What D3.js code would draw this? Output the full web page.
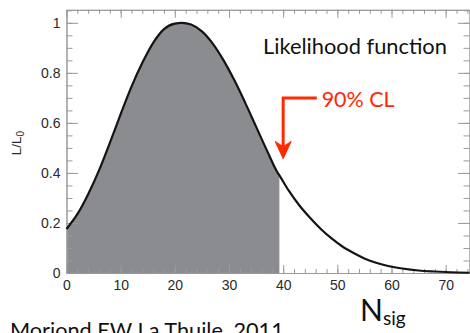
<!DOCTYPE html>
<html>
<head>
<meta charset="utf-8">
<script src="https://cdn.jsdelivr.net/npm/d3@7"></script>
<style>
  html, body { margin: 0; padding: 0; background: #fff; }
  svg { display: block; }
  .axis path, .axis line { stroke: #9a9a9a; stroke-width: 1; }
  .axis text { font-family: "Liberation Sans", Arial, sans-serif; font-size: 14px; fill: #2a2a2a; }
</style>
</head>
<body>
<svg id="chart" width="470" height="333"></svg>
<script>
// Likelihood scan for the signal yield, normalised to its maximum
const nSig = [0, 2, 4, 6, 8, 10, 12, 14, 16, 18, 20, 21.3, 23, 25, 27, 29, 31, 33, 35, 37, 39, 39.3,
              41, 43, 45, 47, 49, 51, 53, 55, 57, 59, 62, 65, 68, 71, 74.4];
const likelihood = [0.176, 0.235, 0.315, 0.41, 0.52, 0.635, 0.745, 0.84, 0.92, 0.975, 0.997, 1.0,
                    0.993, 0.966, 0.917, 0.85, 0.77, 0.68, 0.585, 0.49, 0.40, 0.39,
                    0.33, 0.27, 0.22, 0.175, 0.137, 0.105, 0.08, 0.058, 0.042, 0.03, 0.018,
                    0.010, 0.006, 0.003, 0.001];
// 90% CL upper limit on N_sig
const clLimit = 39.3;

const xTicks = [0, 10, 20, 30, 40, 50, 60, 70];
const xMinorTicks = d3.range(0, 75, 2);
const yTicks = [0, 0.2, 0.4, 0.6, 0.8, 1];
const yTickLabels = ["0", "0.2", "0.4", "0.6", "0.8", "1"];
const yMinorTicks = d3.range(0, 1.051, 0.05);

const svg = d3.select("#chart");
const plotLeft = 66.5, plotRight = 469.5, plotTop = 9.8, plotBottom = 273;

const x = d3.scaleLinear().domain([0, 74.4]).range([plotLeft, plotRight]);
const y = d3.scaleLinear().domain([0, 1.052]).range([plotBottom, plotTop]);

const pts = nSig.map((n, i) => [n, likelihood[i]]);

// shaded region up to the limit
svg.append("clipPath").attr("id", "clip-cl")
  .append("rect")
  .attr("x", x(0)).attr("y", y(1.052))
  .attr("width", x(clLimit) - x(0)).attr("height", y(0) - y(1.052));

svg.append("path")
  .datum(pts)
  .attr("clip-path", "url(#clip-cl)")
  .attr("fill", "#8b8c90")
  .attr("d", d3.area().x(d => x(d[0])).y0(y(0)).y1(d => y(d[1])).curve(d3.curveMonotoneX));

// axes: major + minor ticks on all four sides, all pointing inward
function addAxis(axis, transform, label) {
  const g = svg.append("g").attr("class", "axis").attr("transform", transform).call(axis);
  if (!label) g.selectAll("text").remove();
  return g;
}
addAxis(d3.axisBottom(x).tickValues(xMinorTicks).tickSizeInner(-4).tickSizeOuter(0).tickFormat(""),
        `translate(0,${plotBottom})`, false);
addAxis(d3.axisBottom(x).tickValues(xTicks).tickSizeInner(-8).tickSizeOuter(0).tickPadding(7)
          .tickFormat(d3.format("d")), `translate(0,${plotBottom})`, true);
addAxis(d3.axisTop(x).tickValues(xMinorTicks).tickSizeInner(-4).tickSizeOuter(0).tickFormat(""),
        `translate(0,${plotTop})`, false);
addAxis(d3.axisTop(x).tickValues(xTicks).tickSizeInner(-8).tickSizeOuter(0).tickFormat(""),
        `translate(0,${plotTop})`, false);
addAxis(d3.axisLeft(y).tickValues(yMinorTicks).tickSizeInner(-6).tickSizeOuter(0).tickFormat(""),
        `translate(${plotLeft},0)`, false);
addAxis(d3.axisLeft(y).tickValues(yTicks).tickSizeInner(-11.5).tickSizeOuter(0).tickPadding(6)
          .tickFormat((d, i) => yTickLabels[i]), `translate(${plotLeft},0)`, true);
addAxis(d3.axisRight(y).tickValues(yMinorTicks).tickSizeInner(-6).tickSizeOuter(0).tickFormat(""),
        `translate(${plotRight},0)`, false);
addAxis(d3.axisRight(y).tickValues(yTicks).tickSizeInner(-11.5).tickSizeOuter(0).tickFormat(""),
        `translate(${plotRight},0)`, false);

// likelihood curve
svg.append("path")
  .datum(pts)
  .attr("fill", "none")
  .attr("stroke", "#141414")
  .attr("stroke-width", 2.2)
  .attr("d", d3.line().x(d => x(d[0])).y(d => y(d[1])).curve(d3.curveMonotoneX));

// y-axis title
const yt = svg.append("text")
  .attr("transform", "translate(21,143) rotate(-90)")
  .attr("text-anchor", "middle")
  .style("font-family", "'Liberation Sans', Arial, sans-serif")
  .style("font-size", "13.5px")
  .attr("fill", "#2a2a2a");
yt.append("tspan").text("L/L");
yt.append("tspan").attr("dy", 3).style("font-size", "10px").text("0");

// scale a text's font so its rendered width equals the given width
function fitWidth(sel, width) {
  const fs = parseFloat(sel.style("font-size"));
  const w = sel.node().getComputedTextLength();
  sel.style("font-size", (fs * width / w) + "px");
}

const humanist = "Lato, 'Open Sans', sans-serif";

const title = svg.append("text")
  .attr("x", 263).attr("y", 53.5)
  .style("font-family", humanist).style("font-size", "20px")
  .attr("fill", "#111")
  .text("Likelihood function");
fitWidth(title, 184);

// 90% CL annotation
const red = "#ff2a00";
const ax = x(40.0);
svg.append("path")
  .attr("d", `M${x(46.2)},${y(0.699)} H${ax} V${y(0.505)}`)
  .attr("fill", "none").attr("stroke", red).attr("stroke-width", 3);
svg.append("path")
  .attr("d", `M${ax},${y(0.457)} L${ax - 8},${y(0.526)} L${ax},${y(0.505)} L${ax + 8},${y(0.526)} Z`)
  .attr("fill", red).attr("stroke", red).attr("stroke-width", 1).attr("stroke-linejoin", "round");
const cl = svg.append("text")
  .attr("x", x(47.1)).attr("y", 107)
  .style("font-family", humanist).style("font-size", "22px")
  .attr("fill", red)
  .text("90% CL");
fitWidth(cl, 73);

// x-axis title
const xt = svg.append("text")
  .attr("x", 360).attr("y", 321)
  .style("font-family", humanist).style("font-size", "30px")
  .attr("fill", "#111");
xt.append("tspan").text("N");
xt.append("tspan").attr("dy", 4).style("font-size", "19px").text("sig");

// footer
const foot = svg.append("text")
  .attr("x", 10).attr("y", 338)
  .style("font-family", humanist).style("font-size", "23px")
  .attr("fill", "#111")
  .text("Moriond EW La Thuile, 2011");
fitWidth(foot, 274);
</script>
</body>
</html>
